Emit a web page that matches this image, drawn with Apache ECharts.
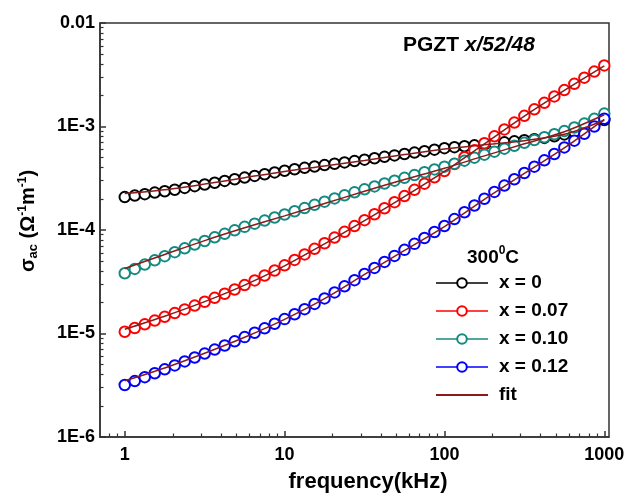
<!DOCTYPE html>
<html>
<head>
<meta charset="utf-8">
<script src="https://cdn.jsdelivr.net/npm/echarts@6/dist/echarts.min.js"></script>
<style>html,body{margin:0;padding:0;background:#fff;}#c{width:630px;height:502px;}</style>
</head>
<body>
<div id="c"></div>
<script>
// frequency (kHz)
const freq = [1,1.155,1.334,1.540,1.778,2.054,2.371,2.738,3.162,3.652,4.217,4.870,5.623,6.494,7.499,8.660,
  10,11.55,13.34,15.40,17.78,20.54,23.71,27.38,31.62,36.52,42.17,48.70,56.23,64.94,74.99,86.60,
  100,115.5,133.4,154.0,177.8,205.4,237.1,273.8,316.2,365.2,421.7,487.0,562.3,649.4,749.9,866.0,1000];

// sigma_ac data
const sX0 = [2.08e-4,2.15e-4,2.22e-4,2.30e-4,2.37e-4,2.45e-4,2.55e-4,2.65e-4,2.75e-4,2.86e-4,2.98e-4,3.09e-4,3.21e-4,3.33e-4,3.46e-4,3.60e-4,
  3.74e-4,3.86e-4,3.99e-4,4.11e-4,4.24e-4,4.37e-4,4.50e-4,4.63e-4,4.78e-4,4.93e-4,5.09e-4,5.26e-4,5.42e-4,5.60e-4,5.78e-4,5.97e-4,
  6.17e-4,6.31e-4,6.44e-4,6.58e-4,6.73e-4,6.87e-4,7.03e-4,7.19e-4,7.36e-4,7.55e-4,7.76e-4,8.04e-4,8.38e-4,8.83e-4,9.46e-4,1.035e-3,1.156e-3];
const sX007 = [1.04e-5,1.13e-5,1.227e-5,1.334e-5,1.449e-5,1.574e-5,1.71e-5,1.862e-5,2.028e-5,2.213e-5,2.421e-5,2.661e-5,2.938e-5,3.258e-5,3.631e-5,4.064e-5,
  4.56e-5,5.14e-5,5.808e-5,6.577e-5,7.447e-5,8.453e-5,9.594e-5,1.091e-4,1.245e-4,1.419e-4,1.622e-4,1.858e-4,2.128e-4,2.443e-4,2.805e-4,3.228e-4,
  3.715e-4,4.335e-4,5.058e-4,5.902e-4,6.887e-4,8.035e-4,9.376e-4,1.091e-3,1.268e-3,1.466e-3,1.694e-3,1.954e-3,2.249e-3,2.582e-3,2.965e-3,3.396e-3,3.89e-3];
const sX010 = [3.819e-5,4.207e-5,4.634e-5,5.093e-5,5.585e-5,6.109e-5,6.653e-5,7.228e-5,7.834e-5,8.492e-5,9.183e-5,9.931e-5,1.072e-4,1.151e-4,1.233e-4,1.321e-4,
  1.413e-4,1.517e-4,1.629e-4,1.75e-4,1.879e-4,2.018e-4,2.163e-4,2.312e-4,2.472e-4,2.636e-4,2.812e-4,2.999e-4,3.192e-4,3.396e-4,3.614e-4,3.846e-4,
  4.093e-4,4.375e-4,4.677e-4,5.0e-4,5.346e-4,5.715e-4,6.109e-4,6.516e-4,6.95e-4,7.396e-4,7.889e-4,8.433e-4,9.036e-4,9.772e-4,1.067e-3,1.186e-3,1.334e-3];
const sX012 = [3.177e-6,3.467e-6,3.784e-6,4.13e-6,4.508e-6,4.92e-6,5.37e-6,5.861e-6,6.397e-6,6.998e-6,7.656e-6,8.395e-6,9.226e-6,1.016e-5,1.122e-5,1.242e-5,
  1.377e-5,1.535e-5,1.718e-5,1.932e-5,2.183e-5,2.495e-5,2.858e-5,3.273e-5,3.758e-5,4.305e-5,4.92e-5,5.623e-5,6.427e-5,7.345e-5,8.375e-5,9.572e-5,
  1.094e-4,1.274e-4,1.483e-4,1.726e-4,2.004e-4,2.333e-4,2.685e-4,3.09e-4,3.556e-4,4.093e-4,4.71e-4,5.42e-4,6.281e-4,7.295e-4,8.511e-4,1.0e-3,1.189e-3];

// fit curves
const fitFreq = [1,1.778,3.162,5.623,10,17.78,31.62,56.23,100,177.8,316.2,562.3,1000];
const fitX0 = [2.25e-4,2.45e-4,2.78e-4,3.2e-4,3.68e-4,4.15e-4,4.7e-4,5.35e-4,6.05e-4,6.65e-4,7.3e-4,8.4e-4,1.15e-3];
const fitX007 = [1.1e-5,1.47e-5,2.03e-5,2.93e-5,4.5e-5,7.35e-5,1.23e-4,2.1e-4,3.68e-4,6.8e-4,1.26e-3,2.23e-3,3.85e-3];
const fitX010 = [4.25e-5,5.8e-5,7.9e-5,1.05e-4,1.37e-4,1.8e-4,2.37e-4,3.07e-4,3.95e-4,5.2e-4,6.8e-4,8.9e-4,1.3e-3];
const fitX012 = [3.5e-6,4.65e-6,6.45e-6,9.2e-6,1.37e-5,2.17e-5,3.72e-5,6.35e-5,1.08e-4,1.98e-4,3.52e-4,6.2e-4,1.17e-3];

// ticks
const xMajor = [1,10,100,1000];
const xMinor = [0.8,0.9,2,3,4,5,6,7,8,9,20,30,40,50,60,70,80,90,200,300,400,500,600,700,800,900];
const yMajor = [1e-6,1e-5,1e-4,1e-3,1e-2];
const yMinor = [2e-6,3e-6,4e-6,5e-6,6e-6,7e-6,8e-6,9e-6,2e-5,3e-5,4e-5,5e-5,6e-5,7e-5,8e-5,9e-5,
  2e-4,3e-4,4e-4,5e-4,6e-4,7e-4,8e-4,9e-4,2e-3,3e-3,4e-3,5e-3,6e-3,7e-3,8e-3,9e-3];

const names = ['x = 0','x = 0.07','x = 0.10','x = 0.12'];
const colors = ['#000000','#ff0000','#138a80','#0000ff'];
const fitColor = '#8b1a1a';
const FONT = 'Liberation Sans, Arial, sans-serif';
const axisColor = '#333';

const dataSets = [sX0, sX007, sX010, sX012];
const fitSets = [fitX0, fitX007, fitX010, fitX012];

const series = [];
dataSets.forEach((vals, i) => {
  series.push({
    name: names[i], type: 'line', xAxisIndex: 0, yAxisIndex: 0,
    data: freq.map((f, j) => [f, vals[j]]),
    symbol: 'emptyCircle', symbolSize: 10.5, showSymbol: true,
    itemStyle: {color: colors[i], borderColor: colors[i], borderWidth: 1.9},
    lineStyle: {opacity: 0, width: 0},
    silent: true, animation: false, z: 2
  });
});
fitSets.forEach((vals) => {
  series.push({
    name: 'fit', type: 'line', xAxisIndex: 0, yAxisIndex: 0,
    data: fitFreq.map((f, j) => [f, vals[j]]),
    symbol: 'none', smooth: 0.3,
    lineStyle: {color: fitColor, width: 1.5},
    itemStyle: {color: fitColor},
    silent: true, animation: false, z: 3
  });
});

const labelStyle = {fontSize: 18, fontWeight: 'bold', color: '#000', fontFamily: FONT};

const option = {
  backgroundColor: '#fff',
  animation: false,
  grid: {left: 100, right: 21, top: 23, bottom: 65, show: true, borderColor: axisColor, borderWidth: 1.5, backgroundColor: 'transparent', outerBoundsMode: 'none'},
  xAxis: [{
    type: 'log', logBase: 10, min: 0.7, max: 1070, position: 'bottom',
    axisLine: {show: true, lineStyle: {color: axisColor, width: 1.5}},
    axisTick: {show: true, inside: true, length: 6, lineStyle: {color: axisColor, width: 1.5}, customValues: xMajor},
    axisLabel: Object.assign({customValues: xMajor, margin: 9, formatter: v => String(Math.round(v))}, labelStyle),
    splitLine: {show: false}, minorTick: {show: false}
  }, {
    type: 'log', logBase: 10, min: 0.7, max: 1070, position: 'bottom',
    axisLine: {show: false},
    axisTick: {show: true, inside: true, length: 3.5, lineStyle: {color: axisColor, width: 1.2}, customValues: xMinor},
    axisLabel: {show: false}, splitLine: {show: false}
  }],
  yAxis: [{
    type: 'log', logBase: 10, min: 1e-6, max: 1e-2, position: 'left',
    axisLine: {show: true, lineStyle: {color: axisColor, width: 1.5}},
    axisTick: {show: true, inside: true, length: 6, lineStyle: {color: axisColor, width: 1.5}, customValues: yMajor},
    axisLabel: Object.assign({customValues: yMajor, margin: 5, formatter: v => {
      const e = Math.round(Math.log10(v));
      return e === -2 ? '0.01' : '1E' + e;
    }}, labelStyle),
    splitLine: {show: false}
  }, {
    type: 'log', logBase: 10, min: 1e-6, max: 1e-2, position: 'left',
    axisLine: {show: false},
    axisTick: {show: true, inside: true, length: 3.5, lineStyle: {color: axisColor, width: 1.2}, customValues: yMinor},
    axisLabel: {show: false}, splitLine: {show: false}
  }],
  legend: {
    orient: 'vertical', left: 435, top: 273, padding: 0,
    itemWidth: 52, itemHeight: 12, itemGap: 8, selectedMode: false,
    textStyle: {fontSize: 19, fontWeight: 'bold', color: '#000', fontFamily: FONT, lineHeight: 20, padding: [0, 0, 0, 6]},
    data: names.map((n, i) => ({
      name: n,
      lineStyle: {opacity: 1, width: 1.5, color: colors[i]},
      itemStyle: {color: colors[i], borderColor: colors[i], borderWidth: 2.5, opacity: 1}
    })).concat([{name: 'fit', itemStyle: {opacity: 0}, lineStyle: {color: fitColor, width: 2, opacity: 1}}])
  },
  graphic: [
    {
      type: 'text', left: 403, top: 35,
      style: {
        text: '{a|PGZT }{b|x/52/48}',
        rich: {
          a: {fontSize: 21, fontWeight: 'bold', fontFamily: FONT, fill: '#000'},
          b: {fontSize: 21, fontWeight: 'bold', fontStyle: 'italic', fontFamily: FONT, fill: '#000'}
        }
      }
    },
    {
      type: 'text', left: 467, top: 245,
      style: {
        text: '{a|300}{s|0}{a|C}',
        rich: {
          a: {fontSize: 19, fontWeight: 'bold', fontFamily: FONT, fill: '#000', verticalAlign: 'bottom'},
          s: {fontSize: 12, fontWeight: 'bold', fontFamily: FONT, fill: '#000', verticalAlign: 'top', padding: [0, 0, 10, 0]}
        }
      }
    },
    {
      type: 'text', x: 368, y: 482,
      style: {text: 'frequency(kHz)', font: 'bold 22px ' + FONT, fill: '#000', align: 'center', verticalAlign: 'middle'}
    },
    {
      type: 'text', x: 28, y: 221, rotation: Math.PI / 2,
      style: {
        text: '{a|σ}{s|ac}{a| (Ω}{p|-1}{a|m}{p|-1}{a|)}',
        align: 'center', verticalAlign: 'middle',
        rich: {
          a: {fontSize: 20, fontWeight: 'bold', fontFamily: FONT, fill: '#000', verticalAlign: 'middle'},
          s: {fontSize: 13, fontWeight: 'bold', fontFamily: FONT, fill: '#000', padding: [10, 0, 0, 0]},
          p: {fontSize: 12, fontWeight: 'bold', fontFamily: FONT, fill: '#000', padding: [0, 0, 10, 0]}
        }
      }
    }
  ],
  series: series
};

const chart = echarts.init(document.getElementById('c'), null, {renderer: 'canvas'});
chart.setOption(option);
</script>
</body>
</html>
